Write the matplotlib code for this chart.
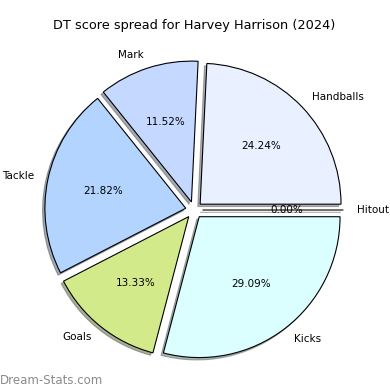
import matplotlib.pyplot as plt

# datos del grafico
etiquetas = ["Hitout", "Handballs", "Mark", "Tackle", "Goals", "Kicks"]
puntos = [0, 40, 19, 36, 22, 48]
colores = ["#f0f0f0", "#e9f0ff", "#c5d8ff", "#b3d4ff", "#d2ea8a", "#dbffff"]

fig = plt.figure(figsize=(3.9, 3.9), dpi=100)
ax = fig.add_axes([0.046, 0.010, 0.903, 0.903])
ax.pie(puntos, labels=etiquetas, colors=colores, autopct="%1.2f%%",
       explode=[0.06] * len(puntos),
       shadow={"ox": -0.012, "oy": -0.012, "shade": 0.6}, startangle=0,
       wedgeprops={"edgecolor": "black", "linewidth": 0.8},
       textprops={"fontsize": 7.5})
ax.set_title("DT score spread for Harvey Harrison (2024)", fontsize=9.3, pad=3.5)
fig.text(0.0, 0.025, "Dream-Stats.com", fontsize=8.5, color="#8a8a8a",
         ha="left", va="center")
plt.savefig("out.png")
